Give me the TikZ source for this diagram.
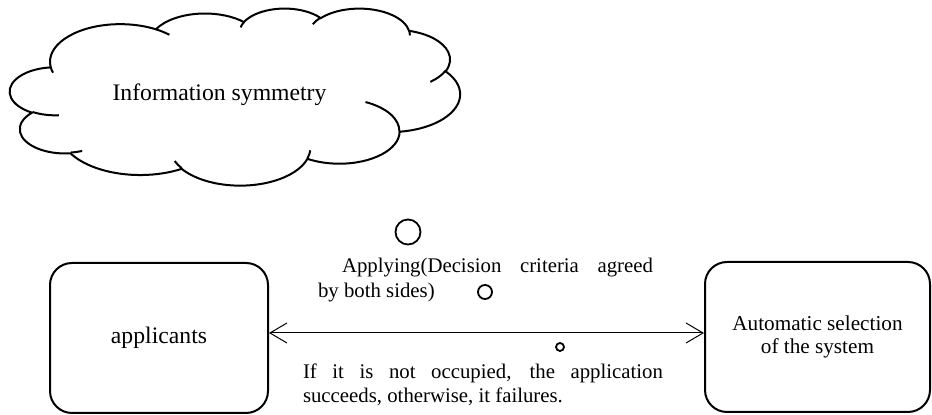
\documentclass[tikz,border=0pt]{standalone}
\usepackage{fontspec}
\setmainfont{Liberation Serif}
\usetikzlibrary{arrows.meta}

\tikzset{
  box/.style={draw,line width=1pt,rounded corners=11pt,minimum width=#1,
    minimum height=75pt,inner sep=0pt,align=center},
  para/.style={inner sep=0pt,align=justify,font=\fontsize{10.4pt}{12.2pt}\selectfont},
  cloudline/.style={line width=1pt},
  ring/.style={line width=0.9pt},
  biarrow/.style={line width=0.5pt,{Straight Barb[length=8.5pt,width=10pt]}-{Straight Barb[length=8.5pt,width=10pt]}}
}

\begin{document}
\begin{tikzpicture}[x=0.5pt,y=-0.5pt]

\useasboundingbox (0,0) rectangle (932,415);

% cloud, drawn in its own 43.2 x 43.2 frame
\begin{scope}[shift={(10,8)},x=5.2083pt,y=-2.0486pt]
\draw[cloudline] (3.900,14.370)
  \foreach \wR/\hR/\st/\sw in {6.753/9.190/-190.4875/123.7805,
      5.333/7.267/-144.1024/89.9452, 4.365/5.945/-145.8079/99.7230,
      4.857/6.595/-130.9861/117.2417, 5.333/7.273/-78.7089/109.0269,
      6.775/9.220/-46.2673/130.2690, 5.785/7.867/0.6250/114.0333,
      6.752/9.215/22.4516/115.1726, 7.720/10.543/66.2426/75.7110,
      4.360/5.918/-274.9421/146.7356, 4.345/5.945/-246.8285/152.5189} {
    arc[x radius=\wR,y radius=\hR,
        start angle={atan2(\wR*sin(\st),\hR*cos(\st))},
        delta angle={mod(atan2(\wR*sin(\st+\sw),\hR*cos(\st+\sw))-atan2(\wR*sin(\st),\hR*cos(\st))+720,360)}]
  } -- cycle;
% the small inner hooks
\foreach \px/\py/\wR/\hR/\st/\sw in {4.693/26.177/4.345/5.945/86.7420/26.4295,
    6.928/34.899/4.360/5.918/73.6105/11.4475,
    16.478/39.090/6.752/9.215/137.6242/14.0811,
    28.827/34.751/6.752/9.215/6.4533/15.9984,
    34.129/22.954/5.785/7.867/-70.2924/70.9174,
    41.798/15.354/5.333/7.273/30.3180/27.7515,
    38.324/5.426/4.857/6.595/-13.7443/14.8589,
    29.078/3.952/4.857/6.595/-149.1815/18.1954,
    22.141/4.720/4.365/5.945/-163.4943/17.6864,
    14.000/5.192/6.753/9.190/-66.7070/12.3194,
    4.127/15.789/6.753/9.190/157.6544/11.8582} {
  \draw[cloudline] (\px,\py)
    arc[x radius=\wR,y radius=\hR,
        start angle={atan2(\wR*sin(\st),\hR*cos(\st))},
        delta angle={mod(atan2(\wR*sin(\st+\sw),\hR*cos(\st+\sw))-atan2(\wR*sin(\st),\hR*cos(\st))+720,360)}];
}
\end{scope}

\node[font=\fontsize{11.85pt}{14pt}\selectfont] (info) at (219.5,95) {Information symmetry};

\node[box=109pt,font=\fontsize{11.85pt}{14pt}\selectfont] (appl) at (159,338) {applicants};
\node[box=112.5pt,font=\fontsize{10.6pt}{11.5pt}\selectfont] (auto) at (817.5,337)
  {Automatic selection\\of the system};

\draw[biarrow] ([yshift=2.5pt]appl.east) -- ([yshift=2pt]auto.west);

\node[para,text width=167.5pt] (apply) at (485.5,280)
  {\hspace*{12pt}Applying(Decision criteria agreed\linebreak by both sides)};
\node[para,text width=180pt] (result) at (483,384.5)
  {If it is not occupied, the application\linebreak succeeds, otherwise, it failures.};

\coordinate (R1) at (408,232);
\coordinate (R2) at (485,292);
\coordinate (R3) at (560,347);

\draw[ring] (R1) circle [radius=12.5];
\draw[ring] (R2) circle [radius=7];
\draw[ring] (R3) circle [radius=4];

\end{tikzpicture}
\end{document}
